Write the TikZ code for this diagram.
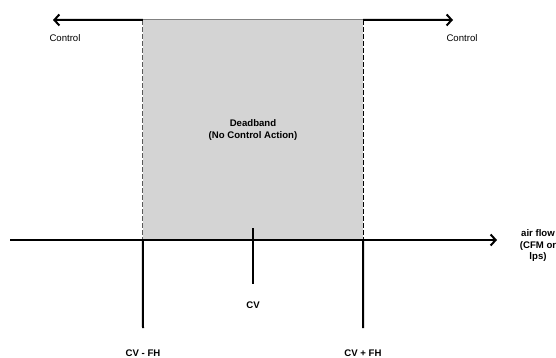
\documentclass[tikz,border=0pt]{standalone}
\usepackage{fontspec}
\setmainfont{Liberation Sans}
\usetikzlibrary{arrows.meta}
\begin{document}
\begin{tikzpicture}[x=1pt,y=-1pt,
                txt/.style={
                    font=\fontsize{9.6}{11.5}\selectfont,
                    align=center,
                    inner sep=0pt
                },
                boldtxt/.style={
                    txt,
                    font=\fontsize{9.6}{11.5}\selectfont\bfseries
                },
                band/.style={
                    rectangle,
                    fill=black!17,
                    minimum width=220pt,
                    minimum height=220pt,
                    inner sep=0pt
                },
                arrow/.style={
                    line width=2pt,
                    -{Straight Barb[length=5pt,width=11pt]}
                },
                rule/.style={
                    line width=2pt
                }
            ]
                \useasboundingbox (0,0) rectangle (556,358);
                \clip (0,0) rectangle (556,358);

                \node[band] (dead) at (253,130) {};
                \node[boldtxt] (deadtxt) at (253,130) {Deadband\\(No Control Action)};

                \draw[gray, line width=1pt] (dead.north west) -- (dead.north east);
                \draw[gray!70!black, line width=1pt, dash pattern=on 5pt off 2pt] (dead.north west) -- (dead.south west);
                \draw[black, line width=1.2pt, dash pattern=on 5pt off 2pt] (dead.north east) -- (dead.south east);

                % control arrows
                \coordinate (ctlendl) at (53,20);
                \coordinate (ctlendr) at (453,20);
                \draw[arrow] (dead.north west) -- (ctlendl);
                \draw[arrow] (dead.north east) -- (ctlendr);
                \node[txt, anchor=base] (ctll) at (65,42) {Control};
                \node[txt, anchor=base] (ctlr) at (462,42) {Control};

                % flow axis
                \coordinate (axstart) at (10,240);
                \coordinate (axend) at (497,240);
                \draw[arrow] (axstart) -- (axend);
                \node[boldtxt] (flow) at (538,246) {air flow\\(CFM or\\lps)};

                % set point marks
                \coordinate (fhlo) at (143,328);
                \coordinate (fhhi) at (363,328);
                \draw[rule] (dead.south west) -- (fhlo);
                \draw[rule] (dead.south east) -- (fhhi);
                \node[boldtxt, anchor=base] (cvlo) at (143,356.5) {CV - FH};
                \node[boldtxt, anchor=base] (cvhi) at (363,356.5) {CV + FH};

                \coordinate (cvtop) at (253,228);
                \coordinate (cvbot) at (253,284);
                \draw[rule] (cvtop) -- (cvbot);
                \node[boldtxt, anchor=base] (cv) at (253,308) {CV};
        \end{tikzpicture}
\end{document}
